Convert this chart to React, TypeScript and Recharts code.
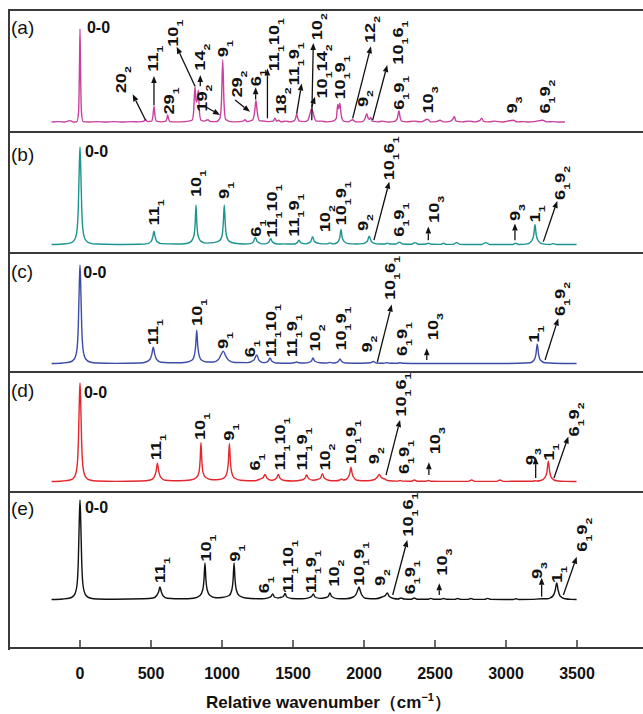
import React from "react";
import { LineChart, Line, XAxis, YAxis, ReferenceDot, ReferenceLine } from "recharts";

type Pt = [number, number];
type Lab = { x: number; y: number; t: string[] };
type Arr = [number, number, number, number];

const X_DOMAIN: [number, number] = [-500, 4000];
const X_TICKS = [0, 500, 1000, 1500, 2000, 2500, 3000, 3500];

const FONT = '"Liberation Sans", Arial, Helvetica, sans-serif';
const INK = "#111";
const FRAME = "#3a3a3a";

// spectra: [wavenumber, relative intensity]
const SPEC_A: Pt[] = [
  [-200, 0.01], [-150, 0.015], [-110, 0.01], [-70, 0.025], [-45, 0.01],
  [-22, 0.015], [-10, 0.12], [-4, 0.55], [0, 1], [4, 0.55], [10, 0.12], [22, 0.015],
  [60, 0.01], [120, 0.015], [180, 0.01], [240, 0.015], [300, 0.01], [360, 0.015], [420, 0.012],
  [450, 0.02], [462, 0.035], [474, 0.015],
  [505, 0.02], [514, 0.08], [521, 0.18], [528, 0.08], [538, 0.02],
  [575, 0.012], [605, 0.02], [612, 0.05], [617, 0.085], [623, 0.05], [632, 0.015],
  [680, 0.012], [740, 0.015], [790, 0.03],
  [800, 0.12], [810, 0.39], [818, 0.22], [825, 0.24], [833, 0.35], [841, 0.12], [852, 0.03],
  [875, 0.02], [900, 0.035], [920, 0.015], [960, 0.015],
  [985, 0.05], [996, 0.22], [1005, 0.67], [1014, 0.22], [1025, 0.04],
  [1060, 0.015], [1100, 0.012], [1150, 0.02], [1162, 0.035], [1175, 0.015],
  [1215, 0.03], [1230, 0.12], [1239, 0.24], [1248, 0.12], [1262, 0.025],
  [1300, 0.02], [1330, 0.015], [1360, 0.02], [1373, 0.05], [1385, 0.02], [1400, 0.03], [1415, 0.012],
  [1450, 0.02], [1480, 0.012],
  [1510, 0.025], [1520, 0.06], [1526, 0.1], [1532, 0.06], [1545, 0.02],
  [1580, 0.015], [1605, 0.03], [1620, 0.1], [1630, 0.15], [1640, 0.12], [1650, 0.06], [1665, 0.02],
  [1700, 0.02], [1740, 0.012], [1780, 0.02],
  [1805, 0.05], [1815, 0.2], [1822, 0.15], [1830, 0.21], [1840, 0.08], [1855, 0.02],
  [1890, 0.012], [1920, 0.035], [1940, 0.012],
  [1990, 0.015], [2008, 0.05], [2019, 0.1], [2030, 0.05], [2040, 0.04], [2047, 0.06], [2058, 0.02],
  [2100, 0.012], [2130, 0.02], [2170, 0.01], [2210, 0.015],
  [2232, 0.04], [2240, 0.09], [2246, 0.13], [2253, 0.07], [2265, 0.02],
  [2300, 0.012], [2350, 0.02], [2400, 0.012], [2448, 0.04], [2470, 0.012],
  [2510, 0.015], [2535, 0.03], [2560, 0.012], [2600, 0.015],
  [2625, 0.04], [2636, 0.07], [2648, 0.02],
  [2690, 0.012], [2740, 0.02], [2780, 0.012], [2815, 0.025], [2829, 0.05], [2842, 0.018],
  [2880, 0.012], [2920, 0.02], [2970, 0.01], [3010, 0.02], [3050, 0.03], [3080, 0.012],
  [3120, 0.015], [3160, 0.01], [3200, 0.015], [3258, 0.03], [3290, 0.012], [3330, 0.015],
  [3380, 0.01], [3415, 0.01],
];

const SPEC_B: Pt[] = [
  [-200, 0.005], [-120, 0.01], [-70, 0.02], [-40, 0.05], [-22, 0.14], [-12, 0.38], [-5, 0.8],
  [0, 1], [5, 0.8], [12, 0.38], [22, 0.14], [40, 0.05], [70, 0.02], [120, 0.01],
  [250, 0.006], [420, 0.008],
  [475, 0.015], [500, 0.035], [512, 0.08], [521, 0.14], [530, 0.08], [542, 0.035], [570, 0.014],
  [680, 0.01], [750, 0.016], [785, 0.04], [803, 0.1], [811, 0.22], [817, 0.41], [823, 0.22], [831, 0.1], [850, 0.04], [885, 0.02],
  [940, 0.025], [983, 0.045], [1001, 0.1], [1009, 0.22], [1016, 0.41], [1023, 0.22], [1031, 0.1], [1050, 0.04], [1090, 0.018],
  [1160, 0.01], [1200, 0.014], [1222, 0.035], [1235, 0.08], [1248, 0.035], [1280, 0.012],
  [1305, 0.012], [1330, 0.03], [1343, 0.065], [1356, 0.03], [1390, 0.01],
  [1440, 0.012], [1470, 0.01],
  [1505, 0.01], [1530, 0.025], [1542, 0.05], [1554, 0.025], [1590, 0.012],
  [1625, 0.035], [1638, 0.085], [1651, 0.035], [1690, 0.014],
  [1740, 0.012], [1760, 0.022], [1780, 0.012],
  [1800, 0.016], [1820, 0.04], [1830, 0.08], [1838, 0.16], [1846, 0.08], [1858, 0.04], [1890, 0.014],
  [1950, 0.01], [1995, 0.015], [2022, 0.035], [2037, 0.09], [2052, 0.035], [2085, 0.012],
  [2145, 0.01], [2164, 0.02], [2185, 0.01],
  [2225, 0.01], [2249, 0.03], [2272, 0.01],
  [2335, 0.008], [2359, 0.025], [2383, 0.008],
  [2432, 0.008], [2453, 0.02], [2475, 0.008],
  [2540, 0.007], [2560, 0.018], [2580, 0.007],
  [2628, 0.007], [2652, 0.025], [2676, 0.007],
  [2750, 0.005], [2830, 0.006], [2857, 0.025], [2884, 0.006],
  [2960, 0.005], [3045, 0.006], [3068, 0.018], [3090, 0.006],
  [3150, 0.012], [3180, 0.04], [3195, 0.1], [3204, 0.21], [3213, 0.1], [3228, 0.04], [3260, 0.012],
  [3310, 0.006], [3333, 0.014], [3356, 0.006], [3420, 0.005], [3497, 0.005],
];

const SPEC_C: Pt[] = [
  [-200, 0.005], [-120, 0.01], [-70, 0.02], [-40, 0.05], [-22, 0.14], [-12, 0.38], [-5, 0.8],
  [0, 1], [5, 0.8], [12, 0.38], [22, 0.14], [40, 0.05], [70, 0.02], [120, 0.01],
  [250, 0.006], [420, 0.01],
  [465, 0.02], [492, 0.045], [506, 0.1], [516, 0.17], [526, 0.1], [540, 0.045], [570, 0.018],
  [680, 0.012], [750, 0.018], [790, 0.04], [807, 0.1], [815, 0.19], [822, 0.34], [829, 0.19], [837, 0.1], [855, 0.04], [890, 0.02],
  [940, 0.02], [975, 0.045], [995, 0.1], [1009, 0.13], [1023, 0.09], [1045, 0.04], [1090, 0.015],
  [1180, 0.014], [1225, 0.04], [1244, 0.09], [1262, 0.035], [1290, 0.014],
  [1310, 0.016], [1326, 0.03], [1338, 0.06], [1350, 0.03], [1380, 0.01],
  [1480, 0.008], [1510, 0.012], [1526, 0.02], [1542, 0.012], [1580, 0.01],
  [1610, 0.016], [1630, 0.03], [1641, 0.06], [1652, 0.03], [1690, 0.012],
  [1740, 0.01], [1760, 0.016], [1780, 0.01],
  [1800, 0.012], [1820, 0.028], [1831, 0.05], [1842, 0.028], [1870, 0.01],
  [1990, 0.008], [2045, 0.012], [2066, 0.025], [2087, 0.01],
  [2140, 0.008], [2160, 0.013], [2180, 0.008],
  [2235, 0.008], [2254, 0.012], [2275, 0.007],
  [2400, 0.005], [2700, 0.005], [3000, 0.005],
  [3170, 0.012], [3198, 0.04], [3211, 0.1], [3220, 0.2], [3229, 0.1], [3242, 0.04], [3275, 0.012],
  [3400, 0.005], [3497, 0.005],
];

const SPEC_D: Pt[] = [
  [-200, 0.005], [-120, 0.01], [-70, 0.02], [-40, 0.05], [-22, 0.14], [-12, 0.38], [-5, 0.8],
  [0, 1], [5, 0.8], [12, 0.38], [22, 0.14], [40, 0.05], [70, 0.02], [120, 0.01],
  [250, 0.006], [430, 0.01],
  [495, 0.02], [522, 0.05], [536, 0.11], [545, 0.19], [554, 0.11], [568, 0.05], [600, 0.018],
  [700, 0.012], [780, 0.02], [820, 0.045], [838, 0.1], [846, 0.22], [852, 0.4], [858, 0.22], [866, 0.1], [885, 0.045], [930, 0.022],
  [980, 0.025], [1018, 0.045], [1036, 0.1], [1045, 0.21], [1052, 0.39], [1059, 0.21], [1068, 0.1], [1087, 0.04], [1130, 0.018],
  [1230, 0.012], [1268, 0.03], [1290, 0.045], [1303, 0.075], [1316, 0.04], [1345, 0.018],
  [1362, 0.02], [1384, 0.04], [1397, 0.075], [1410, 0.035], [1440, 0.015],
  [1500, 0.01], [1560, 0.02], [1583, 0.035], [1596, 0.07], [1609, 0.035], [1640, 0.018],
  [1672, 0.025], [1694, 0.04], [1707, 0.085], [1720, 0.04], [1755, 0.015],
  [1800, 0.012], [1830, 0.02], [1842, 0.03], [1854, 0.02],
  [1872, 0.025], [1890, 0.05], [1900, 0.09], [1908, 0.15], [1916, 0.09], [1926, 0.05], [1950, 0.018],
  [2020, 0.012], [2075, 0.025], [2094, 0.05], [2108, 0.075], [2122, 0.045], [2135, 0.035], [2148, 0.03], [2165, 0.015],
  [2200, 0.01], [2235, 0.009], [2254, 0.015], [2273, 0.009],
  [2335, 0.008], [2355, 0.02], [2375, 0.008],
  [2435, 0.007], [2453, 0.015], [2472, 0.007],
  [2600, 0.006], [2735, 0.006], [2758, 0.02], [2780, 0.006],
  [2935, 0.006], [2958, 0.02], [2980, 0.006],
  [3100, 0.008], [3190, 0.008], [3204, 0.012], [3218, 0.01],
  [3245, 0.015], [3274, 0.045], [3288, 0.1], [3298, 0.21], [3308, 0.1], [3322, 0.04], [3355, 0.012],
  [3420, 0.006], [3497, 0.005],
];

const SPEC_E: Pt[] = [
  [-200, 0.005], [-120, 0.01], [-70, 0.02], [-40, 0.05], [-22, 0.14], [-12, 0.38], [-5, 0.8],
  [0, 1], [5, 0.8], [12, 0.38], [22, 0.14], [40, 0.05], [70, 0.02], [120, 0.01],
  [250, 0.008], [450, 0.012],
  [515, 0.02], [540, 0.045], [553, 0.08], [563, 0.13], [573, 0.08], [586, 0.04], [615, 0.018],
  [720, 0.012], [800, 0.018], [845, 0.045], [864, 0.1], [873, 0.2], [880, 0.37], [887, 0.2], [896, 0.1], [915, 0.045], [955, 0.022],
  [1000, 0.025], [1050, 0.045], [1069, 0.1], [1078, 0.2], [1085, 0.37], [1092, 0.2], [1101, 0.1], [1120, 0.045], [1165, 0.02],
  [1280, 0.012], [1325, 0.022], [1345, 0.035], [1357, 0.06], [1369, 0.03], [1395, 0.02],
  [1410, 0.025], [1432, 0.035], [1444, 0.065], [1456, 0.03], [1490, 0.015],
  [1560, 0.012], [1610, 0.022], [1631, 0.035], [1643, 0.06], [1655, 0.03], [1690, 0.016],
  [1725, 0.022], [1748, 0.035], [1760, 0.07], [1772, 0.035], [1810, 0.014],
  [1870, 0.012], [1925, 0.03], [1945, 0.06], [1956, 0.1], [1965, 0.13], [1974, 0.09], [1985, 0.05], [2010, 0.018],
  [2080, 0.012], [2128, 0.03], [2150, 0.045], [2164, 0.07], [2178, 0.035], [2210, 0.015],
  [2240, 0.01], [2261, 0.02], [2282, 0.01],
  [2334, 0.008], [2354, 0.02], [2374, 0.008],
  [2450, 0.007], [2471, 0.016], [2492, 0.007],
  [2540, 0.007], [2560, 0.015], [2580, 0.007],
  [2640, 0.006], [2660, 0.015], [2680, 0.006],
  [2733, 0.006], [2753, 0.015], [2773, 0.006],
  [2850, 0.006], [2871, 0.016], [2892, 0.006],
  [3050, 0.005], [3070, 0.012], [3090, 0.005],
  [3180, 0.006], [3251, 0.012], [3290, 0.012],
  [3310, 0.02], [3333, 0.045], [3347, 0.1], [3357, 0.17], [3367, 0.1], [3381, 0.04], [3415, 0.012],
  [3460, 0.006], [3497, 0.005],
];

// band assignments: label foot (wavenumber, intensity) and text parts (main, sub, main, sub...)
const LABELS_A: Lab[] = [
  { x: 286, y: 0.316, t: ["20", "2"] },
  { x: 516, y: 0.546, t: ["11", "1"] },
  { x: 624, y: 0.09, t: ["29", "1"] },
  { x: 657, y: 0.81, t: ["10", "1"] },
  { x: 847, y: 0.556, t: ["14", "2"] },
  { x: 857, y: 0.12, t: ["19", "2"] },
  { x: 1009, y: 0.7, t: ["9", "1"] },
  { x: 1103, y: 0.27, t: ["29", "2"] },
  { x: 1237, y: 0.39, t: ["6", "1"] },
  { x: 1366, y: 0.55, t: ["11", "1", "10", "1"] },
  { x: 1415, y: 0.09, t: ["18", "2"] },
  { x: 1507, y: 0.4, t: ["11", "1", "9", "1"] },
  { x: 1670, y: 0.88, t: ["10", "2"] },
  { x: 1704, y: 0.26, t: ["10", "1", "14", "2"] },
  { x: 1831, y: 0.25, t: ["10", "1", "9", "1"] },
  { x: 2038, y: 0.85, t: ["12", "2"] },
  { x: 1995, y: 0.17, t: ["9", "2"] },
  { x: 2237, y: 0.62, t: ["10", "1", "6", "1"] },
  { x: 2247, y: 0.14, t: ["6", "1", "9", "1"] },
  { x: 2446, y: 0.1, t: ["10", "3"] },
  { x: 3044, y: 0.1, t: ["9", "3"] },
  { x: 3270, y: 0.1, t: ["6", "1", "9", "2"] },
];
const ARROWS_A: Arr[] = [
  [462, 0.03, 371, 0.305],
  [521, 0.19, 521, 0.5],
  [810, 0.39, 681, 0.81],
  [847, 0.39, 847, 0.51],
  [887, 0.17, 986, 0.085],
  [1092, 0.245, 1197, 0.12],
  [1237, 0.25, 1237, 0.38],
  [1320, 0.05, 1320, 0.58],
  [1526, 0.1, 1561, 0.42],
  [1632, 0.03, 1643, 0.85],
  [1632, 0.17, 1655, 0.28],
  [1920, 0.05, 2049, 0.815],
  [2061, 0.03, 2164, 0.617],
];

const LABELS_B: Lab[] = [
  { x: 521, y: 0.2, t: ["11", "1"] },
  { x: 817, y: 0.49, t: ["10", "1"] },
  { x: 1016, y: 0.47, t: ["9", "1"] },
  { x: 1237, y: 0.085, t: ["6", "1"] },
  { x: 1350, y: 0.075, t: ["11", "1", "10", "1"] },
  { x: 1507, y: 0.085, t: ["11", "1", "9", "1"] },
  { x: 1723, y: 0.13, t: ["10", "2"] },
  { x: 1838, y: 0.2, t: ["10", "1", "9", "1"] },
  { x: 1995, y: 0.143, t: ["9", "2"] },
  { x: 2178, y: 0.66, t: ["10", "1", "6", "1"] },
  { x: 2247, y: 0.085, t: ["6", "1", "9", "1"] },
  { x: 2495, y: 0.225, t: ["10", "3"] },
  { x: 3063, y: 0.245, t: ["9", "3"] },
  { x: 3200, y: 0.23, t: ["1", "1"] },
  { x: 3380, y: 0.46, t: ["6", "1", "9", "2"] },
];
const ARROWS_B: Arr[] = [
  [2070, 0.05, 2178, 0.646],
  [2453, 0.05, 2453, 0.19],
  [3063, 0.05, 3063, 0.22],
  [3263, 0.035, 3361, 0.45],
];

const LABELS_C: Lab[] = [
  { x: 512, y: 0.19, t: ["11", "1"] },
  { x: 822, y: 0.384, t: ["10", "1"] },
  { x: 1005, y: 0.15, t: ["9", "1"] },
  { x: 1197, y: 0.068, t: ["6", "1"] },
  { x: 1343, y: 0.068, t: ["11", "1", "10", "1"] },
  { x: 1495, y: 0.068, t: ["11", "1", "9", "1"] },
  { x: 1655, y: 0.125, t: ["10", "2"] },
  { x: 1836, y: 0.135, t: ["10", "1", "9", "1"] },
  { x: 2019, y: 0.115, t: ["9", "2"] },
  { x: 2183, y: 0.646, t: ["10", "1", "6", "1"] },
  { x: 2265, y: 0.08, t: ["6", "1", "9", "1"] },
  { x: 2488, y: 0.24, t: ["10", "3"] },
  { x: 3197, y: 0.215, t: ["1", "1"] },
  { x: 3380, y: 0.485, t: ["6", "1", "9", "2"] },
];
const ARROWS_C: Arr[] = [
  [2094, 0.02, 2195, 0.6],
  [2442, 0.04, 2442, 0.16],
  [3275, 0.04, 3368, 0.46],
];

const LABELS_D: Lab[] = [
  { x: 531, y: 0.22, t: ["11", "1"] },
  { x: 847, y: 0.424, t: ["10", "1"] },
  { x: 1047, y: 0.417, t: ["9", "1"] },
  { x: 1232, y: 0.115, t: ["6", "1"] },
  { x: 1404, y: 0.115, t: ["11", "1", "10", "1"] },
  { x: 1561, y: 0.115, t: ["11", "1", "9", "1"] },
  { x: 1725, y: 0.115, t: ["10", "2"] },
  { x: 1906, y: 0.18, t: ["10", "1", "9", "1"] },
  { x: 2066, y: 0.18, t: ["9", "2"] },
  { x: 2261, y: 0.66, t: ["10", "1", "6", "1"] },
  { x: 2277, y: 0.08, t: ["6", "1", "9", "1"] },
  { x: 2500, y: 0.28, t: ["10", "3"] },
  { x: 3174, y: 0.17, t: ["9", "3"] },
  { x: 3298, y: 0.215, t: ["1", "1"] },
  { x: 3474, y: 0.46, t: ["6", "1", "9", "2"] },
];
const ARROWS_D: Arr[] = [
  [2155, 0.07, 2254, 0.626],
  [2457, 0.07, 2457, 0.2],
  [3209, 0.04, 3209, 0.25],
  [3338, 0.04, 3439, 0.46],
];

const LABELS_E: Lab[] = [
  { x: 559, y: 0.167, t: ["11", "1"] },
  { x: 883, y: 0.383, t: ["10", "1"] },
  { x: 1089, y: 0.383, t: ["9", "1"] },
  { x: 1296, y: 0.067, t: ["6", "1"] },
  { x: 1460, y: 0.067, t: ["11", "1", "10", "1"] },
  { x: 1625, y: 0.067, t: ["11", "1", "9", "1"] },
  { x: 1784, y: 0.133, t: ["10", "2"] },
  { x: 1965, y: 0.14, t: ["10", "1", "9", "1"] },
  { x: 2113, y: 0.14, t: ["9", "2"] },
  { x: 2305, y: 0.633, t: ["10", "1", "6", "1"] },
  { x: 2324, y: 0.057, t: ["6", "1", "9", "1"] },
  { x: 2547, y: 0.243, t: ["10", "3"] },
  { x: 3220, y: 0.21, t: ["9", "3"] },
  { x: 3361, y: 0.17, t: ["1", "1"] },
  { x: 3533, y: 0.483, t: ["6", "1", "9", "2"] },
];
const ARROWS_E: Arr[] = [
  [2202, 0.05, 2305, 0.6],
  [2530, 0.05, 2530, 0.167],
  [3251, 0.033, 3251, 0.223],
  [3404, 0.05, 3498, 0.433],
];

const PANELS = [
  { letter: "(a)", color: "#c8409f", data: SPEC_A, labels: LABELS_A, arrows: ARROWS_A, zero: [49, 1.02], top: 11, height: 120, y: [-0.085, 1.191], letterY: 28 },
  { letter: "(b)", color: "#1c948f", data: SPEC_B, labels: LABELS_B, arrows: ARROWS_B, zero: [35, 0.96], top: 133, height: 119, y: [-0.071, 1.143], letterY: 155 },
  { letter: "(c)", color: "#3d4ca8", data: SPEC_C, labels: LABELS_C, arrows: ARROWS_C, zero: [23, 0.93], top: 254, height: 117, y: [-0.071, 1.111], letterY: 272 },
  { letter: "(d)", color: "#e4272d", data: SPEC_D, labels: LABELS_D, arrows: ARROWS_D, zero: [28, 0.91], top: 373, height: 118, y: [-0.091, 1.101], letterY: 391 },
  { letter: "(e)", color: "#111111", data: SPEC_E, labels: LABELS_E, arrows: ARROWS_E, zero: [35, 0.93], top: 493, height: 221, y: [-0.48, 1.07], letterY: 509 },
];

// vertical band label, read bottom to top, glyphs stretched along the reading direction
function RotLabel({ cx, cy, parts }: { cx: number; cy: number; parts: string[] }) {
  return (
    <g transform={`translate(${cx},${cy}) rotate(-90) scale(1.3,1)`}>
      <text x={0} y={5.2} fontFamily={FONT} fontWeight="bold" fontSize={14} fill={INK}>
        {parts.map((s, i) =>
          i % 2 === 0 ? (
            <tspan key={i} fontSize={14} dy={i === 0 ? undefined : -5}>{s}</tspan>
          ) : (
            <tspan key={i} fontSize={9.5} dy={5}>{s}</tspan>
          )
        )}
      </text>
    </g>
  );
}

function Arrow(p: any) {
  const { x1, y1, x2, y2 } = p;
  const a = Math.atan2(y2 - y1, x2 - x1);
  const len = 7;
  const half = 2.8;
  const bx = x2 - len * Math.cos(a);
  const by = y2 - len * Math.sin(a);
  const nx = -Math.sin(a) * half;
  const ny = Math.cos(a) * half;
  return (
    <g>
      <line x1={x1} y1={y1} x2={bx} y2={by} stroke={INK} strokeWidth={1.3} />
      <polygon points={`${x2},${y2} ${bx + nx},${by + ny} ${bx - nx},${by - ny}`} fill={INK} />
    </g>
  );
}

const renderTitle = (props: any) => {
  const vb = props && props.viewBox ? props.viewBox : { x: 0, y: 155, width: 639, height: 66 };
  return (
    <text
      x={vb.x + vb.width / 2}
      y={vb.y + 60}
      textAnchor="middle"
      fontFamily={FONT}
      fontWeight="bold"
      fontSize={17}
      fill={INK}
    >
      Relative wavenumber（cm
      <tspan fontSize={11} dy={-7}>−1</tspan>
      <tspan dy={7}>）</tspan>
    </text>
  );
};

function Panel({ p, last }: { p: (typeof PANELS)[number]; last: boolean }) {
  const rows = p.data.map(([x, y]) => ({ x, y }));
  return (
    <div style={{ position: "absolute", left: 9, top: p.top }}>
      <LineChart width={639} height={p.height} data={rows} margin={{ top: 0, right: 0, bottom: 0, left: 0 }}>
        <XAxis
          dataKey="x"
          type="number"
          domain={X_DOMAIN}
          allowDataOverflow
          hide={!last}
          ticks={X_TICKS}
          interval={0}
          height={last ? 66 : 0}
          tickSize={-8}
          tickMargin={28}
          axisLine={{ stroke: FRAME, strokeWidth: 2 }}
          tickLine={{ stroke: FRAME, strokeWidth: 1.5 }}
          tick={{ fontSize: 16, fontWeight: "bold", fill: INK, fontFamily: FONT }}
          label={last ? renderTitle : undefined}
        />
        <YAxis type="number" domain={p.y} hide allowDataOverflow />
        <Line
          dataKey="y"
          type="monotone"
          stroke={p.color}
          strokeWidth={1.4}
          dot={false}
          isAnimationActive={false}
        />
        {p.arrows.map((a, i) => (
          <ReferenceLine
            key={`a${i}`}
            segment={[{ x: a[0], y: a[1] }, { x: a[2], y: a[3] }]}
            ifOverflow="visible"
            shape={(sp: any) => <Arrow {...sp} />}
          />
        ))}
        {p.labels.map((l, i) => (
          <ReferenceDot
            key={`l${i}`}
            x={l.x}
            y={l.y}
            r={0}
            ifOverflow="visible"
            shape={(sp: any) => <RotLabel cx={sp.cx} cy={sp.cy} parts={l.t} />}
          />
        ))}
        <ReferenceDot
          x={p.zero[0]}
          y={p.zero[1]}
          r={0}
          ifOverflow="visible"
          shape={(sp: any) => (
            <text x={sp.cx} y={sp.cy + 5.8} fontFamily={FONT} fontWeight="bold" fontSize={16} fill={INK}>
              0-0
            </text>
          )}
        />
      </LineChart>
    </div>
  );
}

export default function App() {
  const seps = [131, 252, 371, 491];
  return (
    <div style={{ position: "absolute", left: 0, top: 0, width: 643, height: 714, overflow: "hidden", background: "#fff" }}>
      {PANELS.map((p, i) => (
        <Panel key={p.letter} p={p} last={i === PANELS.length - 1} />
      ))}
      <div style={{ position: "absolute", left: 8, top: 9, width: 643, height: 2, background: FRAME }} />
      {seps.map((y) => (
        <div key={y} style={{ position: "absolute", left: 8, top: y, width: 643, height: 2, background: FRAME }} />
      ))}
      <div style={{ position: "absolute", left: 8, top: 9, width: 2, height: 641, background: FRAME }} />
      {PANELS.map((p) => (
        <div
          key={`t${p.letter}`}
          style={{ position: "absolute", left: 11, top: p.letterY - 11, fontFamily: FONT, fontSize: 19, lineHeight: "22px", color: INK }}
        >
          {p.letter}
        </div>
      ))}
    </div>
  );
}
